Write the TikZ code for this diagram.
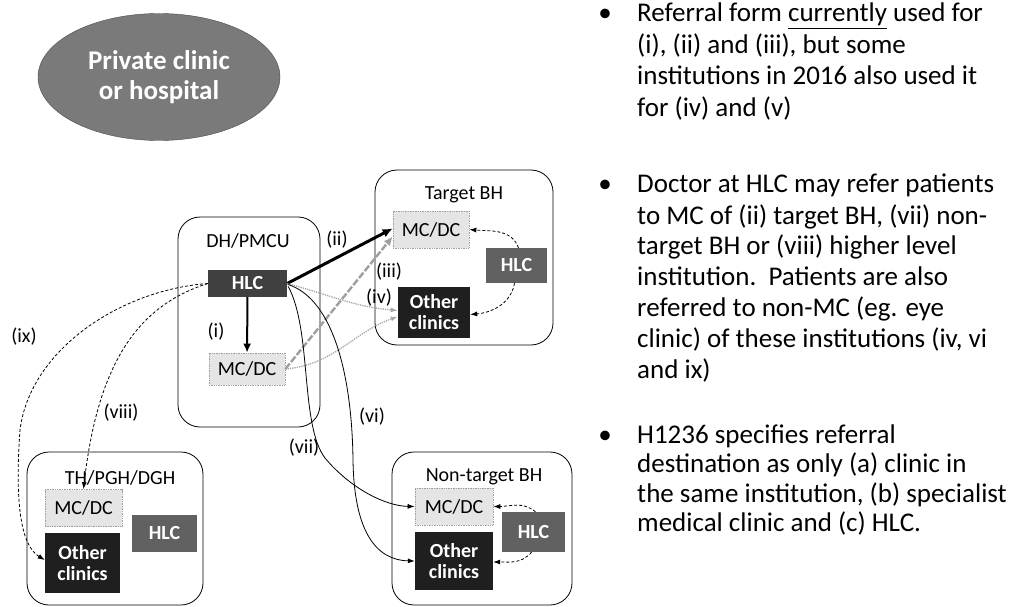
\documentclass[tikz,border=0pt]{standalone}
\usepackage{fontspec}
\setmainfont{Carlito}
\usetikzlibrary{arrows.meta,calc,shapes.geometric}
\begin{document}
\begin{tikzpicture}[x=1pt,y=-1pt,
  inst/.style={draw=black,line width=0.8pt,rounded corners=22pt,inner sep=0pt},
  mcbox/.style={draw=gray!75,densely dotted,line width=0.7pt,fill=gray!20,text=black,font=\fontsize{20}{21}\selectfont,inner sep=0pt},
  hlcbox/.style={fill=black!62,text=white,font=\fontsize{20}{21}\selectfont\bfseries,inner sep=0pt},
  ocbox/.style={fill=black!88,text=white,font=\fontsize{20}{21}\selectfont\bfseries,inner sep=0pt,align=center},
  ttl/.style={font=\fontsize{20}{21}\selectfont,inner sep=0pt},
  lbl/.style={font=\fontsize{20}{21}\selectfont,inner sep=0pt},
  txt/.style={font=\fontsize{27}{31}\selectfont,anchor=base west,inner sep=0pt},
  bul/.style={font=\fontsize{27}{31}\selectfont,anchor=base,inner sep=0pt},
  thin/.style={line width=0.8pt,black,-{Latex[length=7pt,width=5pt]}},
  thindash/.style={line width=0.8pt,black,densely dashed,-{Latex[length=7pt,width=5pt]}},
  grayarr/.style={line width=1.3pt,gray!70,densely dotted,-{Latex[length=7pt,width=5pt]}}
]
\useasboundingbox (0,0) rectangle (1012,607);

% private clinic
\node[ellipse,draw=black!70,fill=black!52,minimum width=242,minimum height=127,text=white,
  font=\fontsize{27}{30}\selectfont\bfseries,align=center,inner sep=0pt] (pc) at (159,77) {Private clinic\\or hospital};

% institutions
\node[inst,minimum width=142,minimum height=210] (dh) at (249,322) {};
\node[ttl] (dht) at (248,241) {DH/PMCU};
\node[hlcbox,fill=black!75,minimum width=79,minimum height=27] (dhhlc) at (247.5,283.5) {HLC};
\node[mcbox,minimum width=76,minimum height=32] (dhmc) at (247,369) {MC/DC};

\node[inst,minimum width=178,minimum height=175] (tb) at (464,257.5) {};
\node[ttl] (tbt) at (464,195) {Target BH};
\node[mcbox,minimum width=76,minimum height=37] (tbmc) at (431,229.5) {MC/DC};
\node[hlcbox,minimum width=61,minimum height=35] (tbhlc) at (516.5,265.5) {HLC};
\node[ocbox,minimum width=72,minimum height=51] (tboc) at (434,312.5) {Other\\clinics};

\node[inst,minimum width=176,minimum height=153] (th) at (115,528.5) {};
\node[ttl] (tht) at (120,478) {TH/PGH/DGH};
\node[mcbox,minimum width=77,minimum height=37] (thmc) at (83.5,508) {MC/DC};
\node[hlcbox,minimum width=65,minimum height=37] (thhlc) at (164.5,533.5) {HLC};
\node[ocbox,minimum width=75,minimum height=60] (thoc) at (82.5,563) {Other\\clinics};

\node[inst,minimum width=180,minimum height=153] (nt) at (482,528.5) {};
\node[ttl] (ntt) at (484,477) {Non-target BH};
\node[mcbox,minimum width=78,minimum height=37] (ntmc) at (454,506.5) {MC/DC};
\node[hlcbox,minimum width=63,minimum height=40] (nthlc) at (533.5,532) {HLC};
\node[ocbox,minimum width=78,minimum height=58] (ntoc) at (454,561) {Other\\clinics};

% connectors
\draw[line width=2pt,-{Latex[length=9pt,width=8pt]}] (dhhlc) -- (dhmc);
\draw[line width=3pt,black,-{Latex[length=10pt,width=9pt]}] (dhhlc.east) -- ($(tbmc.west)+(0,-1)$);
\draw[line width=2.4pt,gray!75,dash pattern=on 7pt off 2pt,-{Latex[length=9pt,width=8pt]}] (dhmc.east) -- ($(tbmc.west)+(0,7)$);
\draw[grayarr] (dhhlc.east) to[out=-15,in=175] ($(tboc.west)+(0,-2)$);
\draw[grayarr] (dhmc.east) to[out=5,in=200] ($(tboc.west)+(0,4)$);
\draw[thindash] ($(tbhlc.north)+(2,0)$) to[out=110,in=-5] (tbmc.east);
\draw[thindash] ($(tbhlc.south)+(-2,0)$) to[out=-100,in=5] ($(tboc.east)+(0,2)$);
\draw[thindash] ($(nthlc.north)+(2,0)$) to[out=140,in=0] (ntmc.east);
\draw[thindash] ($(nthlc.south)+(-2,0)$) to[out=-130,in=0] ($(ntoc.east)+(0,1)$);
% (ix)
\draw[thindash] (dhhlc.west) .. controls (120,290) and (30,350) .. (20,430) .. controls (15,500) and (20,545) .. ($(thoc.west)+(0,-3)$);
% (viii)
\draw[thindash] (dhhlc.west) .. controls (140,305) and (98,360) .. (thmc.north);
% (vii)
\draw[thin] ($(dhhlc.east)+(1,3)$) .. controls (312,330) and (300,425) .. (325,458) .. controls (350,488) and (385,506) .. (ntmc.west);
% (vi)
\draw[thin] ($(dhhlc.east)+(1,1)$) .. controls (335,300) and (352,380) .. (353,460) .. controls (354,530) and (375,560) .. (ntoc.west);

% labels
\node[lbl] (li) at (216,332) {(i)};
\node[lbl] (lii) at (337,240) {(ii)};
\node[lbl] (liii) at (389,272) {(iii)};
\node[lbl] (liv) at (379,298) {(iv)};
\node[lbl] (lvi) at (372,417) {(vi)};
\node[lbl] (lvii) at (304,448) {(vii)};
\node[lbl] (lviii) at (121,413) {(viii)};
\node[lbl] (lix) at (24,337) {(ix)};

% right text
\node[bul] (b1) at (605,22) {•};
\node[txt] (t11) at (637,22) {Referral form \underline{currently} used for};
\node[txt] (t12) at (637,53.5) {(i), (ii) and (iii), but some};
\node[txt] (t13) at (637,85) {institutions in 2016 also used it};
\node[txt] (t14) at (637,116.5) {for (iv) and (v)};

\node[bul] (b2) at (605,193) {•};
\node[txt] (t21) at (637,193) {Doctor at HLC may refer patients};
\node[txt] (t22) at (637,224) {to MC of (ii) target BH, (vii) non-};
\node[txt] (t23) at (637,254.8) {target BH or (viii) higher level};
\node[txt] (t24) at (637,285.6) {institution.\ \ Patients are also};
\node[txt] (t25) at (637,316.4) {referred to non-MC (eg. eye};
\node[txt] (t26) at (637,347.2) {clinic) of these institutions (iv, vi};
\node[txt] (t27) at (637,378) {and ix)};

\node[bul] (b3) at (605,443) {•};
\node[txt] (t31) at (637,443) {H1236 specifies referral};
\node[txt] (t32) at (637,472.5) {destination as only (a) clinic in};
\node[txt] (t33) at (637,502) {the same institution, (b) specialist};
\node[txt] (t34) at (637,531.5) {medical clinic and (c) HLC.};
\end{tikzpicture}
\end{document}
